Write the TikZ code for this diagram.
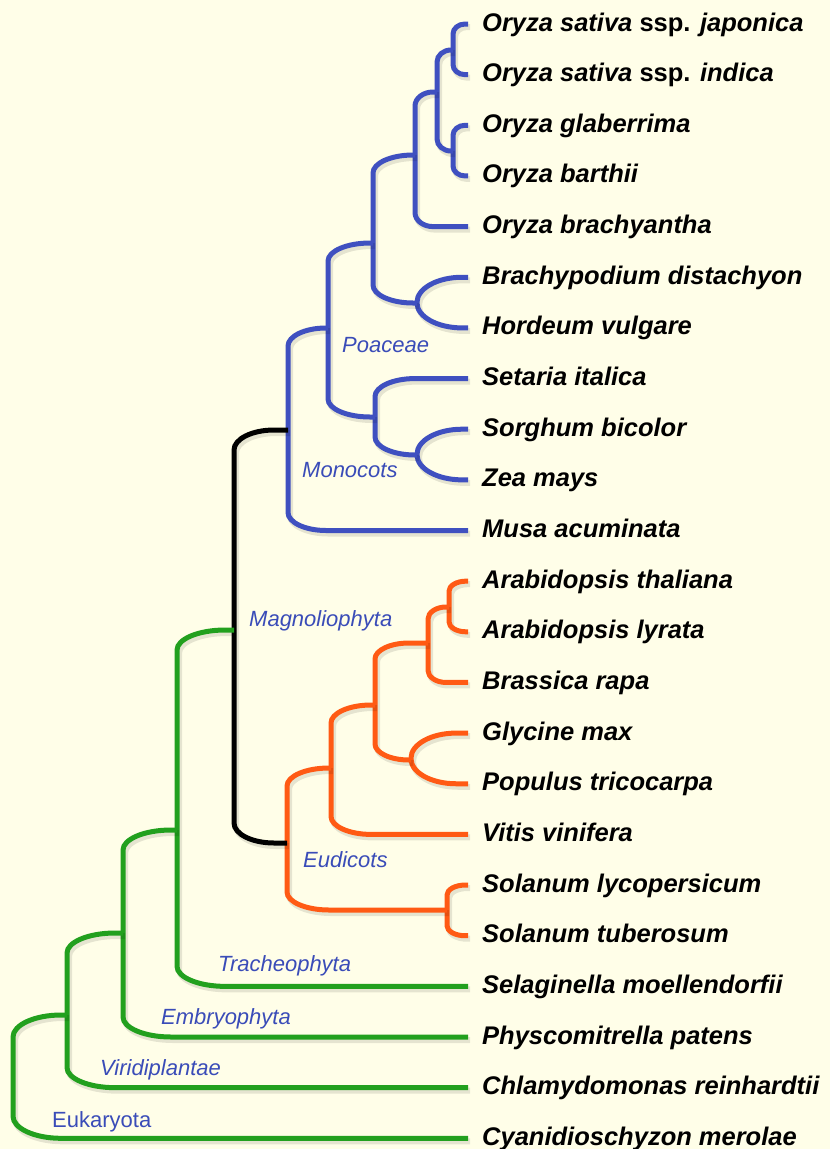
\documentclass[tikz,border=0pt]{standalone}
\usepackage{fontspec}
\setmainfont{Liberation Sans}
\usetikzlibrary{calc}
\definecolor{bg}{RGB}{255,254,232}
\definecolor{cblue}{RGB}{63,80,192}
\definecolor{corange}{RGB}{255,90,20}
\definecolor{cgreen}{RGB}{34,160,30}
\definecolor{clab}{RGB}{58,76,184}
% #1 colour, #2 horizontal corner extent, #3 vertical corner extent, #4 node, #5 upper child, #6 lower child
\newcommand\cladepath[6]{(#5) -- ($(#4 |- #5)+(#2,0)$) .. controls ($(#4 |- #5)+(0.45*#2,0)$) and ($(#4 |- #5)+(0,0.45*#3)$) .. ($(#4 |- #5)+(0,#3)$) -- ($(#4 |- #6)+(0,-#3)$) .. controls ($(#4 |- #6)+(0,-0.45*#3)$) and ($(#4 |- #6)+(0.45*#2,0)$) .. ($(#4 |- #6)+(#2,0)$) -- (#6)}
\newcommand\cladeline[6]{%
\begin{scope}[transform canvas={xshift=2pt,yshift=-3pt}]
\draw[br,black,opacity=0.10,line width=6pt] \cladepath{#1}{#2}{#3}{#4}{#5}{#6};
\end{scope}
\draw[br,#1] \cladepath{#1}{#2}{#3}{#4}{#5}{#6};}
\begin{document}
\begin{tikzpicture}[x=1pt,y=-1pt,
 leaf/.style={anchor=west,inner xsep=14pt,inner ysep=0pt,font=\fontsize{25.5}{30}\selectfont\bfseries\itshape,text height=18.3pt,text depth=4.3pt},
 cladelabel/.style={anchor=west,inner sep=0pt,font=\fontsize{22}{26}\selectfont\itshape,text=clab,text height=15.8pt,text depth=0pt},
 br/.style={line width=5pt}]
\fill[bg] (0,0) rectangle (830,1149);
\useasboundingbox (0,0) rectangle (830,1149);
% leaves
\node[leaf] (l1) at (468,24) {Oryza sativa {\upshape ssp.} japonica};
\node[leaf] (l2) at (468,74.65) {Oryza sativa {\upshape ssp.} indica};
\node[leaf] (l3) at (468,125.3) {Oryza glaberrima};
\node[leaf] (l4) at (468,175.95) {Oryza barthii};
\node[leaf] (l5) at (468,226.6) {Oryza brachyantha};
\node[leaf] (l6) at (468,277.25) {Brachypodium distachyon};
\node[leaf] (l7) at (468,327.9) {Hordeum vulgare};
\node[leaf] (l8) at (468,378.55) {Setaria italica};
\node[leaf] (l9) at (468,429.2) {Sorghum bicolor};
\node[leaf] (l10) at (468,479.85) {Zea mays};
\node[leaf] (l11) at (468,530.5) {Musa acuminata};
\node[leaf] (l12) at (468,581.15) {Arabidopsis thaliana};
\node[leaf] (l13) at (468,631.8) {Arabidopsis lyrata};
\node[leaf] (l14) at (468,682.45) {Brassica rapa};
\node[leaf] (l15) at (468,733.1) {Glycine max};
\node[leaf] (l16) at (468,783.75) {Populus tricocarpa};
\node[leaf] (l17) at (468,834.4) {Vitis vinifera};
\node[leaf] (l18) at (468,885.05) {Solanum lycopersicum};
\node[leaf] (l19) at (468,935.7) {Solanum tuberosum};
\node[leaf] (l20) at (468,986.35) {Selaginella moellendorfii};
\node[leaf] (l21) at (468,1037) {Physcomitrella patens};
\node[leaf] (l22) at (468,1087.65) {Chlamydomonas reinhardtii};
\node[leaf] (l23) at (468,1138.3) {Cyanidioschyzon merolae};
% internal nodes
\coordinate (nA) at (453,50);
\coordinate (nB) at (453,151);
\coordinate (nC) at (437,92);
\coordinate (nD) at (415,155);
\coordinate (nE) at (417,303);
\coordinate (nF) at (373,243);
\coordinate (nG) at (417,455);
\coordinate (nH) at (375,417);
\coordinate (nPoa) at (328,328);
\coordinate (nMono) at (288,430);
\coordinate (nI) at (449,607);
\coordinate (nJ) at (428,643);
\coordinate (nK) at (411,760);
\coordinate (nL) at (375,705);
\coordinate (nM) at (331,768);
\coordinate (nS) at (447,910);
\coordinate (nEud) at (287,843);
\coordinate (nMag) at (234,630);
\coordinate (nTra) at (177,830);
\coordinate (nEmb) at (123,933);
\coordinate (nVir) at (67,1015);
\coordinate (nEuk) at (13,1100);
% branches
\cladeline{cblue}{12}{10}{nA}{l1.west}{l2.west}
\cladeline{cblue}{12}{10}{nB}{l3.west}{l4.west}
\cladeline{cblue}{14}{12}{nC}{nA}{nB}
\cladeline{cblue}{18}{14}{nD}{nC}{l5.west}
\cladeline{cblue}{45}{25}{nE}{l6.west}{l7.west}
\cladeline{cblue}{40}{18}{nF}{nD}{nE}
\cladeline{cblue}{45}{25}{nG}{l9.west}{l10.west}
\cladeline{cblue}{40}{18}{nH}{l8.west}{nG}
\cladeline{cblue}{42}{18}{nPoa}{nF}{nH}
\cladeline{cblue}{38}{18}{nMono}{nPoa}{l11.west}
\cladeline{corange}{17}{10}{nI}{l12.west}{l13.west}
\cladeline{corange}{18}{12}{nJ}{nI}{l14.west}
\cladeline{corange}{45}{25}{nK}{l15.west}{l16.west}
\cladeline{corange}{34}{16}{nL}{nJ}{nK}
\cladeline{corange}{40}{18}{nM}{nL}{l17.west}
\cladeline{corange}{18}{10}{nS}{l18.west}{l19.west}
\cladeline{corange}{42}{18}{nEud}{nM}{nS}
\cladeline{black}{40}{20}{nMag}{nMono}{nEud}
\cladeline{cgreen}{48}{20}{nTra}{nMag}{l20.west}
\cladeline{cgreen}{48}{20}{nEmb}{nTra}{l21.west}
\cladeline{cgreen}{48}{20}{nVir}{nEmb}{l22.west}
\cladeline{cgreen}{48}{22}{nEuk}{nVir}{l23.west}
% clade labels
\node[cladelabel] (tPoa) at (342,345) {Poaceae};
\node[cladelabel] (tMono) at (302,470) {Monocots};
\node[cladelabel] (tMag) at (249,619) {Magnoliophyta};
\node[cladelabel] (tEud) at (303,860) {Eudicots};
\node[cladelabel] (tTra) at (218,964) {Tracheophyta};
\node[cladelabel] (tEmb) at (161,1017) {Embryophyta};
\node[cladelabel] (tVir) at (100,1068) {Viridiplantae};
\node[cladelabel,font=\fontsize{22}{26}\selectfont\upshape] (tEuk) at (52,1120) {Eukaryota};
\end{tikzpicture}
\end{document}
